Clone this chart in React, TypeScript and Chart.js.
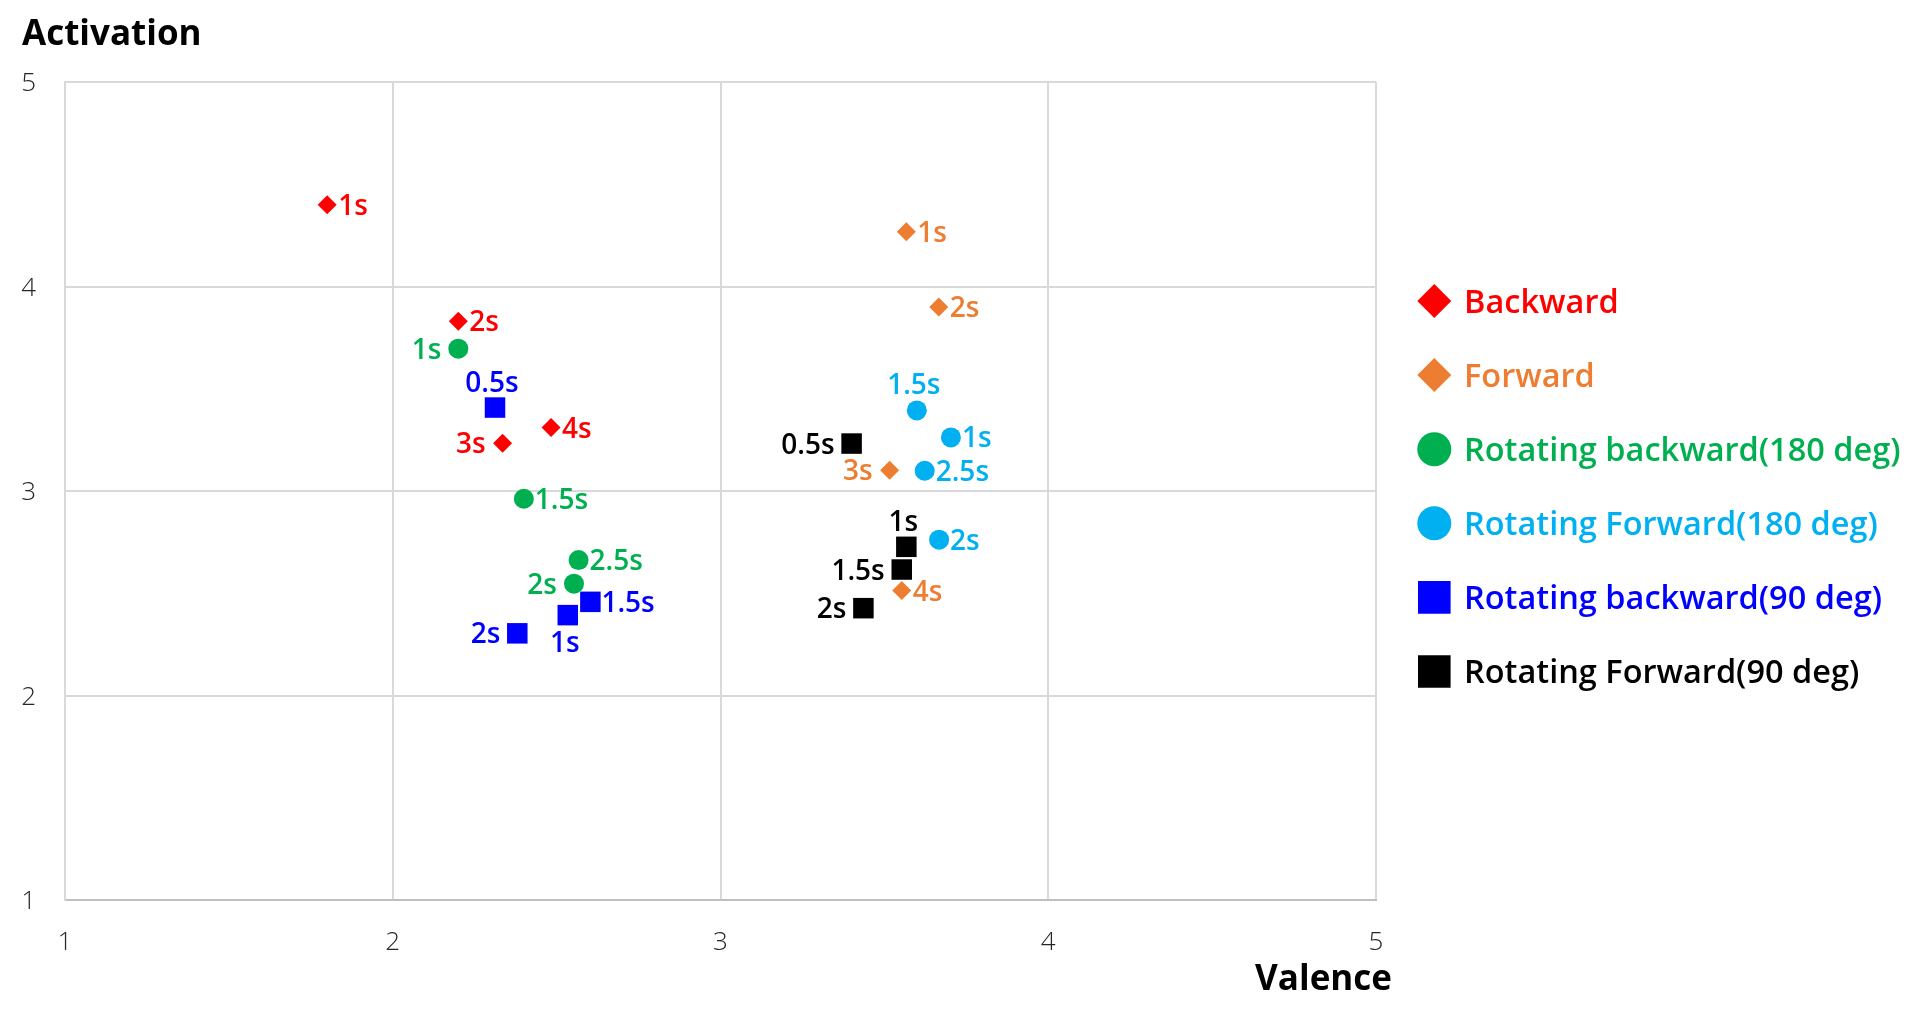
import React, { useEffect, useRef } from "react";
import { Chart, registerables } from "chart.js";

Chart.register(...registerables);

const seriesNames = [
  "Backward",
  "Forward",
  "Rotating backward(180 deg)",
  "Rotating Forward(180 deg)",
  "Rotating backward(90 deg)",
  "Rotating Forward(90 deg)",
];
const seriesColors = ["#FF0000", "#ED7D31", "#00B050", "#00B0F0", "#0000FF", "#000000"];
const seriesShapes = ["rectRot", "rectRot", "circle", "circle", "rect", "rect"];
const seriesRadius = [9.5, 9.5, 10, 10, 14.5, 14.5];

const backwardX = [1.8, 2.2, 2.335, 2.483];
const backwardY = [4.4, 3.83, 3.233, 3.31];
const backwardLabels = ["1s", "2s", "3s", "4s"];
const backwardLabelPos = ["right", "right", "left", "right"];

const forwardX = [3.567, 3.666, 3.516, 3.553];
const forwardY = [4.268, 3.9, 3.101, 2.513];
const forwardLabels = ["1s", "2s", "3s", "4s"];
const forwardLabelPos = ["right", "right", "left", "right"];

const rotBack180X = [2.2, 2.4, 2.553, 2.567];
const rotBack180Y = [3.696, 2.962, 2.547, 2.662];
const rotBack180Labels = ["1s", "1.5s", "2s", "2.5s"];
const rotBack180LabelPos = ["left", "right", "left", "right"];

const rotFwd180X = [3.703, 3.599, 3.667, 3.623];
const rotFwd180Y = [3.262, 3.394, 2.762, 3.099];
const rotFwd180Labels = ["1s", "1.5s", "2s", "2.5s"];
const rotFwd180LabelPos = ["right", "above", "right", "right"];

const rotBack90X = [2.312, 2.534, 2.603, 2.38];
const rotBack90Y = [3.408, 2.393, 2.458, 2.304];
const rotBack90Labels = ["0.5s", "1s", "1.5s", "2s"];
const rotBack90LabelPos = ["above", "below", "right", "left"];

const rotFwd90X = [3.4, 3.567, 3.553, 3.436];
const rotFwd90Y = [3.232, 2.727, 2.616, 2.427];
const rotFwd90Labels = ["0.5s", "1s", "1.5s", "2s"];
const rotFwd90LabelPos = ["left", "above", "left", "left"];

const allX = [backwardX, forwardX, rotBack180X, rotFwd180X, rotBack90X, rotFwd90X];
const allY = [backwardY, forwardY, rotBack180Y, rotFwd180Y, rotBack90Y, rotFwd90Y];
const allLabels = [backwardLabels, forwardLabels, rotBack180Labels, rotFwd180Labels, rotBack90Labels, rotFwd90Labels];
const allLabelPos = [backwardLabelPos, forwardLabelPos, rotBack180LabelPos, rotFwd180LabelPos, rotBack90LabelPos, rotFwd90LabelPos];

const axisMin = 1;
const axisMax = 5;
const tickValues = [1, 2, 3, 4, 5];
const xTitle = "Valence";
const yTitle = "Activation";

const FONT = '"Open Sans", "Noto Sans", sans-serif';

function drawShape(ctx: CanvasRenderingContext2D, shape: string, x: number, y: number, s: number) {
  ctx.beginPath();
  if (shape === "rectRot") {
    ctx.moveTo(x - s, y);
    ctx.lineTo(x, y - s);
    ctx.lineTo(x + s, y);
    ctx.lineTo(x, y + s);
    ctx.closePath();
  } else if (shape === "circle") {
    ctx.arc(x, y, s, 0, Math.PI * 2);
  } else {
    ctx.rect(x - s, y - s, 2 * s, 2 * s);
  }
  ctx.fill();
}

const overlayPlugin = {
  id: "overlay",
  afterDatasetsDraw(chart: any) {
    const ctx: CanvasRenderingContext2D = chart.ctx;
    ctx.save();
    const lf = 28;
    ctx.font = `600 ${lf}px ${FONT}`;
    ctx.textBaseline = "alphabetic";
    chart.data.datasets.forEach((ds: any, di: number) => {
      const meta = chart.getDatasetMeta(di);
      ctx.fillStyle = seriesColors[di];
      meta.data.forEach((pt: any, i: number) => {
        const pos = allLabelPos[di][i];
        const text = allLabels[di][i];
        const cy = pt.y;
        const off = lf * 0.357;
        if (pos === "right") {
          ctx.textAlign = "left";
          ctx.fillText(text, pt.x + 11, cy + off);
        } else if (pos === "left") {
          ctx.textAlign = "right";
          ctx.fillText(text, pt.x - 17, cy + off);
        } else if (pos === "above") {
          ctx.textAlign = "center";
          ctx.fillText(text, pt.x - 3, cy - 26 + off);
        } else {
          ctx.textAlign = "center";
          ctx.fillText(text, pt.x - 3, cy + 27 + off);
        }
      });
    });
    ctx.restore();
  },
  afterDraw(chart: any) {
    const ctx: CanvasRenderingContext2D = chart.ctx;
    const xs = chart.scales.x;
    const ys = chart.scales.y;
    const area = chart.chartArea;
    ctx.save();
    const tf = 26;
    ctx.font = `300 ${tf}px ${FONT}`;
    ctx.fillStyle = "#262626";
    ctx.textBaseline = "alphabetic";
    ctx.textAlign = "right";
    tickValues.forEach((v) => {
      const py = ys.getPixelForValue(v);
      ctx.fillText(String(v), area.left - 29, py + tf * 0.357);
    });
    ctx.textAlign = "center";
    tickValues.forEach((v) => {
      const px = xs.getPixelForValue(v);
      ctx.fillText(String(v), px, area.bottom + 41 + tf * 0.357);
    });
    const af = 35;
    ctx.font = `bold ${af}px ${FONT}`;
    ctx.fillStyle = "#000000";
    ctx.textAlign = "left";
    ctx.fillText(yTitle, 22, 33 + af * 0.357);
    ctx.textAlign = "right";
    ctx.fillText(xTitle, 1392, 978 + af * 0.357);
    const lf = 32.5;
    const rowY0 = 301;
    const rowStep = 74.1;
    const legendSize = [17, 17, 17, 17, 16.3, 16.3];
    seriesNames.forEach((name, i) => {
      const cy = rowY0 + i * rowStep;
      ctx.fillStyle = seriesColors[i];
      drawShape(ctx, seriesShapes[i], 1434.3, cy, legendSize[i]);
      ctx.font = `600 ${lf}px ${FONT}`;
      ctx.textAlign = "left";
      ctx.fillText(name, 1464, cy + lf * 0.357);
    });
    ctx.restore();
  },
};

export default function App() {
  const canvasRef = useRef<HTMLCanvasElement | null>(null);

  useEffect(() => {
    if (!canvasRef.current) return;
    const datasets = seriesNames.map((name, i) => ({
      label: name,
      data: allX[i].map((x, j) => ({ x, y: allY[i][j] })),
      backgroundColor: seriesColors[i],
      borderColor: seriesColors[i],
      borderWidth: 0,
      pointStyle: seriesShapes[i],
      pointRadius: seriesRadius[i],
      pointHoverRadius: seriesRadius[i],
    }));
    const chart = new Chart(canvasRef.current, {
      type: "scatter",
      data: { datasets },
      plugins: [overlayPlugin],
      options: {
        animation: false,
        responsive: true,
        maintainAspectRatio: false,
        layout: { padding: { left: 65, top: 82, right: 544, bottom: 122 } },
        plugins: { legend: { display: false }, tooltip: { enabled: false } },
        scales: {
          x: {
            type: "linear",
            min: axisMin,
            max: axisMax,
            ticks: { display: false, stepSize: 1 },
            grid: { color: "#d9d9d9", lineWidth: 2, drawTicks: false, tickLength: 0 },
            border: { color: "#bfbfbf", width: 2 },
          },
          y: {
            type: "linear",
            min: axisMin,
            max: axisMax,
            ticks: { display: false, stepSize: 1 },
            grid: { color: "#d9d9d9", lineWidth: 2, drawTicks: false, tickLength: 0 },
            border: { color: "#d9d9d9", width: 2 },
          },
        },
      },
    } as any);
    return () => chart.destroy();
  }, []);

  return (
    <div style={{ position: "fixed", left: 0, top: 0, width: 1920, height: 1022, background: "#ffffff" }}>
      <canvas ref={canvasRef} />
    </div>
  );
}
